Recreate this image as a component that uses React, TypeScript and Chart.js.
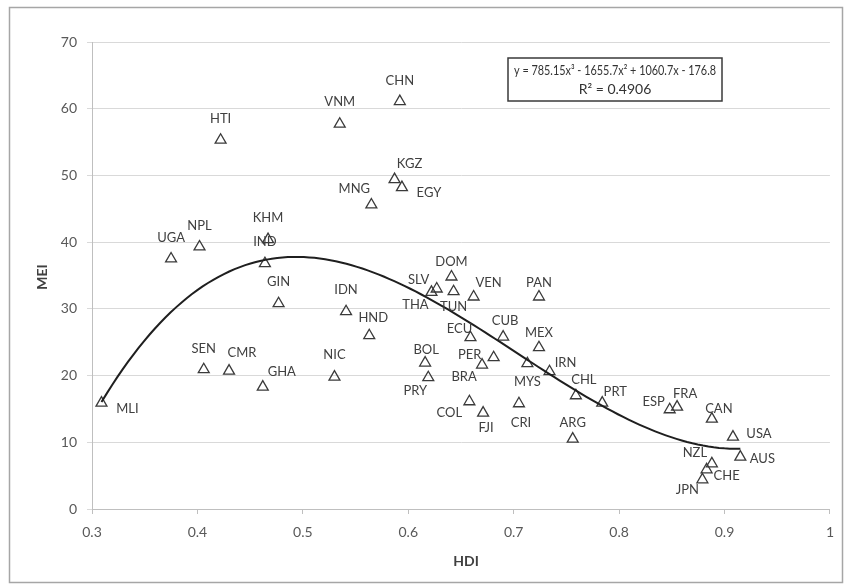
import React, { useEffect, useRef } from "react";
import { Chart, registerables } from "chart.js";

Chart.register(...registerables);

// ---- data ----
const countries = [
  "MLI", "UGA", "NPL", "HTI", "SEN", "CMR", "GHA", "KHM", "IND", "GIN",
  "NIC", "VNM", "IDN", "HND", "MNG", "KGZ", "EGY", "CHN", "BOL", "PRY",
  "THA", "SLV", "DOM", "TUN", "COL", "ECU", "VEN", "BRA", "FJI", "PER",
  "CUB", "CRI", "MYS", "PAN", "MEX", "IRN", "ARG", "CHL", "PRT", "ESP",
  "FRA", "CAN", "USA", "AUS", "NZL", "CHE", "JPN",
];
const hdiValues = [
  0.309, 0.375, 0.402, 0.422, 0.406, 0.43, 0.462, 0.467, 0.464, 0.477,
  0.53, 0.535, 0.541, 0.563, 0.565, 0.587, 0.594, 0.592, 0.616, 0.619,
  0.622, 0.627, 0.641, 0.643, 0.658, 0.659, 0.662, 0.67, 0.671, 0.681,
  0.69, 0.705, 0.713, 0.724, 0.724, 0.734, 0.756, 0.759, 0.784, 0.848,
  0.855, 0.888, 0.908, 0.915, 0.888, 0.883, 0.879,
];
const meiValues = [
  15.9, 37.5, 39.3, 55.3, 20.9, 20.7, 18.3, 40.4, 36.8, 30.8,
  19.8, 57.7, 29.6, 26.0, 45.6, 49.4, 48.2, 61.1, 21.9, 19.7,
  32.5, 33.0, 34.8, 32.6, 16.1, 25.7, 31.8, 21.6, 14.4, 22.7,
  25.8, 15.8, 21.8, 31.8, 24.2, 20.6, 10.5, 17.0, 15.9, 14.9,
  15.3, 13.5, 10.8, 7.8, 6.8, 5.9, 4.4,
];
// polynomial trend line coefficients (x^3, x^2, x, 1) as shown on the chart
const trendCoefficients = [785.15, -1655.7, 1060.7, -176.8];
const trendEquation = "y = 785.15x³ - 1655.7x² + 1060.7x - 176.8";
const trendR2 = "R² = 0.4906";
const xTickValues = [0.3, 0.4, 0.5, 0.6, 0.7, 0.8, 0.9, 1];
const yTickValues = [0, 10, 20, 30, 40, 50, 60, 70];
const xTitle = "HDI";
const yTitle = "MEI";

// ---- label placement (styling) ----
const labelOffsets: Record<string, [number, number]> = {
  MLI: [26, 6], UGA: [0, -21], NPL: [0, -21], HTI: [0, -21], SEN: [0, -21],
  CMR: [13, -18], GHA: [19, -15], KHM: [0, -22], IND: [0, -22], GIN: [0, -22],
  NIC: [0, -22], VNM: [0, -22], IDN: [0, -22], HND: [4, -18], MNG: [-17, -16],
  KGZ: [15, -16], EGY: [27, 5], CHN: [0, -21], BOL: [1, -13], PRY: [-13, 13],
  THA: [-16, 13], SLV: [-18, -9], DOM: [0, -15], TUN: [0, 15], COL: [-20, 11],
  ECU: [-11, -9], VEN: [15, -14], BRA: [-18, 12], FJI: [3, 15], PER: [-24, -3],
  CUB: [2, -16], CRI: [2, 19], MYS: [0, 18], PAN: [0, -14], MEX: [0, -15],
  IRN: [16, -9], ARG: [0, -16], CHL: [8, -16], PRT: [13, -11], ESP: [-16, -8],
  FRA: [8, -13], CAN: [7, -10], USA: [26, -3], AUS: [22, 2], NZL: [-17, -11],
  CHE: [20, 6], JPN: [-15, 10],
};

const FONT = "Lato, 'Open Sans', sans-serif";

function trendPoints() {
  const xmin = Math.min(...hdiValues);
  const xmax = Math.max(...hdiValues);
  const pts: { x: number; y: number }[] = [];
  const n = 120;
  for (let i = 0; i <= n; i++) {
    const x = xmin + ((xmax - xmin) * i) / n;
    const [a, b, c, d] = trendCoefficients;
    pts.push({ x, y: a * x * x * x + b * x * x + c * x + d });
  }
  return pts;
}

function fitText(ctx: CanvasRenderingContext2D, text: string, cx: number, cy: number, maxW: number) {
  const w = ctx.measureText(text).width;
  const s = w > maxW ? maxW / w : 1;
  ctx.save();
  ctx.translate(cx, cy);
  ctx.scale(s, 1);
  ctx.fillText(text, 0, 0);
  ctx.restore();
}

const overlayPlugin = {
  id: "overlay",
  afterDatasetsDraw(chart: any) {
    const ctx = chart.ctx;
    const meta = chart.getDatasetMeta(1);
    ctx.save();
    ctx.font = `13px ${FONT}`;
    ctx.fillStyle = "#404040";
    ctx.textAlign = "center";
    ctx.textBaseline = "middle";
    meta.data.forEach((el: any, i: number) => {
      const off = labelOffsets[countries[i]] || [0, -20];
      ctx.fillText(countries[i], el.x + off[0], el.y + off[1]);
    });
    // equation box
    ctx.fillStyle = "#ffffff";
    ctx.fillRect(508, 58, 214, 43);
    ctx.strokeStyle = "#3a3a3a";
    ctx.lineWidth = 1.5;
    ctx.strokeRect(508, 58, 214, 43);
    ctx.fillStyle = "#333333";
    ctx.font = `14px ${FONT}`;
    fitText(ctx, trendEquation, 615, 70, 202);
    fitText(ctx, trendR2, 615, 89, 202);
    // axis titles
    ctx.font = `bold 14px ${FONT}`;
    ctx.fillStyle = "#404040";
    ctx.fillText(xTitle, 466, 561);
    ctx.translate(42, 277);
    ctx.rotate(-Math.PI / 2);
    ctx.fillText(yTitle, 0, 0);
    ctx.restore();
    // outer border
    ctx.save();
    ctx.strokeStyle = "#a6a6a6";
    ctx.lineWidth = 1.5;
    ctx.strokeRect(9.5, 7.5, 833, 575);
    ctx.restore();
  },
};

export default function App() {
  const ref = useRef<HTMLCanvasElement | null>(null);
  useEffect(() => {
    if (!ref.current) return;
    const chart = new Chart(ref.current, {
      type: "scatter",
      data: {
        datasets: [
          {
            type: "line",
            data: trendPoints(),
            borderColor: "#1f1f1f",
            borderWidth: 2,
            pointRadius: 0,
            fill: false,
            tension: 0,
          } as any,
          {
            data: hdiValues.map((x, i) => ({ x, y: meiValues[i] })),
            pointStyle: "triangle",
            pointRadius: 6.3,
            backgroundColor: "rgba(255,255,255,0)",
            borderColor: "#3a3a3a",
            borderWidth: 1.3,
          },
        ],
      },
      options: {
        responsive: false,
        animation: false,
        layout: { padding: { left: 0, top: 42, right: 7, bottom: 0 } },
        plugins: { legend: { display: false }, tooltip: { enabled: false } },
        scales: {
          x: {
            type: "linear",
            min: 0.3,
            max: 1,
            afterBuildTicks: (s: any) => {
              s.ticks = xTickValues.map((v) => ({ value: v }));
            },
            afterFit: (s: any) => {
              s.height = 75;
            },
            ticks: {
              autoSkip: false,
              maxRotation: 0,
              padding: 10,
              color: "#595959",
              font: { family: FONT, size: 14 },
              callback: (v: any) => String(Number(Number(v).toFixed(1))),
            },
            grid: {
              drawOnChartArea: false,
              drawTicks: true,
              tickLength: 5,
              color: "#bfbfbf",
            },
            border: { color: "#bfbfbf", width: 1 },
          },
          y: {
            min: 0,
            max: 70,
            afterBuildTicks: (s: any) => {
              s.ticks = yTickValues.map((v) => ({ value: v }));
            },
            afterFit: (s: any) => {
              s.width = 92;
            },
            ticks: {
              padding: 10,
              color: "#595959",
              font: { family: FONT, size: 14 },
            },
            grid: { color: "#d9d9d9", tickLength: 5, lineWidth: 1 },
            border: { color: "#bfbfbf", width: 1 },
          },
        },
      },
      plugins: [overlayPlugin],
    });
    return () => chart.destroy();
  }, []);
  return (
    <div style={{ position: "fixed", left: 0, top: 0, width: 844, height: 584, background: "#fff" }}>
      <canvas ref={ref} width={844} height={584} style={{ width: 844, height: 584 }} />
    </div>
  );
}
